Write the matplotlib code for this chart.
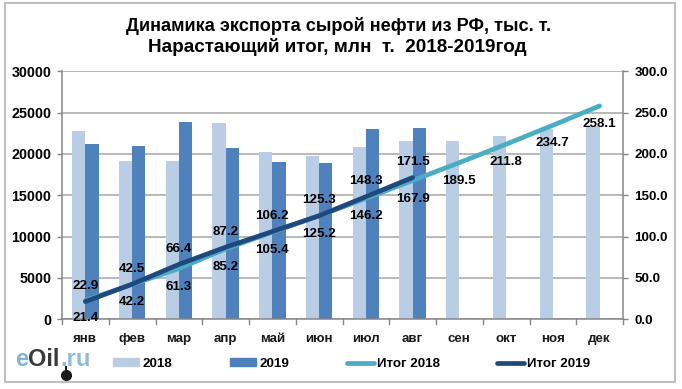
import matplotlib
matplotlib.use("Agg")
import matplotlib.pyplot as plt
from matplotlib.lines import Line2D
from matplotlib.patches import Patch, Rectangle
import numpy as np

plt.rcParams['font.family'] = ['Liberation Sans', 'DejaVu Sans']

months = ["янв", "фев", "мар", "апр", "май", "июн", "июл", "авг", "сен", "окт", "ноя", "дек"]
export_2018 = [22800, 19200, 19100, 23800, 20200, 19800, 20800, 21600, 21600, 22200, 23000, 23400]
export_2019 = [21200, 21000, 23900, 20700, 19000, 18900, 23000, 23200]
total_2018 = [22.9, 42.2, 61.3, 85.2, 105.4, 125.2, 146.2, 167.9, 189.5, 211.8, 234.7, 258.1]
total_2019 = [21.4, 42.5, 66.4, 87.2, 106.2, 125.3, 148.3, 171.5]

W, H = 682, 389
C_2018 = "#B9CDE5"
C_2019 = "#4F81BD"
C_T2018 = "#4BACC6"
C_T2019 = "#1F497D"
GRID = "#A6A6A6"
AXIS = "#868686"
FS = 9.6

fig = plt.figure(figsize=(W / 100, H / 100), dpi=100)
fig.patch.set_facecolor("white")
fig.add_artist(Rectangle((5 / W, 1 - 382 / H), 670 / W, 379 / H, transform=fig.transFigure,
                         fill=False, edgecolor="#BFBFBF", linewidth=1.4))

ax = fig.add_axes([62 / W, 1 - 319.3 / H, 561 / W, 248 / H])
x = np.arange(len(months))
ax.bar(x[:len(export_2018)] - 0.14, export_2018, width=0.285, color=C_2018, zorder=2)
ax.bar(x[:len(export_2019)] + 0.14, export_2019, width=0.285, color=C_2019, zorder=2)
ax.set_xlim(-0.5, 11.5)
ax.set_ylim(0, 30000)
ax.set_yticks(range(0, 30001, 5000))
ax.grid(axis="y", color=GRID, linewidth=1.1, zorder=1)
ax.set_axisbelow(True)
ax.set_xticks(x)
ax.set_xticklabels(months, fontsize=FS, fontweight="bold", color="#1a1a1a")
ax.tick_params(axis="x", length=0, pad=10)
for b in np.arange(-0.5, 12):
    ax.plot([b, b], [0, -0.018], transform=ax.get_xaxis_transform(), color=AXIS,
            linewidth=1, clip_on=False)
ax.tick_params(axis="y", length=3.6, color=AXIS, width=1, labelsize=10.3, pad=4)
for lab in ax.get_yticklabels():
    lab.set_fontweight("bold")
for s in ("top", "right"):
    ax.spines[s].set_visible(False)
for s in ("left", "bottom"):
    ax.spines[s].set_color(AXIS)
    ax.spines[s].set_linewidth(1.1)

ax2 = ax.twinx()
ax2.set_ylim(0, 300)
ax2.set_yticks(range(0, 301, 50))
ax2.set_yticklabels([f"{v:.1f}" for v in range(0, 301, 50)])
ax2.tick_params(axis="y", length=3.6, color=AXIS, width=1, labelsize=FS, pad=4.5)
for lab in ax2.get_yticklabels():
    lab.set_fontweight("bold")
for s in ("top", "left", "bottom"):
    ax2.spines[s].set_visible(False)
ax2.spines["right"].set_color(AXIS)
ax2.spines["right"].set_linewidth(1.1)

ax2.plot(x[:len(total_2018)], total_2018, color=C_T2018, linewidth=3.4,
         solid_capstyle="round", zorder=3)
ax2.plot(x[:len(total_2019)], total_2019, color=C_T2019, linewidth=3.4,
         solid_capstyle="round", zorder=4)

for i, v in enumerate(total_2018):
    off = 10.5 if i == 0 else -13
    ax2.annotate(f"{v:.1f}", (i, v), xytext=(0, off), textcoords="offset points",
                 ha="center", va="center", fontsize=FS, fontweight="bold", color="black", zorder=5)
for i, v in enumerate(total_2019):
    off = -12 if i == 0 else 11
    ax2.annotate(f"{v:.1f}", (i, v), xytext=(0, off), textcoords="offset points",
                 ha="center", va="center", fontsize=FS, fontweight="bold", color="black", zorder=5)

fig.text(338.5 / W, 1 - 26 / H, "Динамика экспорта сырой нефти из РФ, тыс. т.",
         ha="center", va="center", fontsize=13.1, fontweight="bold")
fig.text(337 / W, 1 - 47 / H, "Нарастающий итог, млн  т.  2018-2019год",
         ha="center", va="center", fontsize=13.55, fontweight="bold")

handles = [Patch(color=C_2018), Patch(color=C_2019),
           Line2D([0], [0], color=C_T2018, linewidth=3.4, solid_capstyle="round"),
           Line2D([0], [0], color=C_T2019, linewidth=3.4, solid_capstyle="round")]
fig.legend(handles, ["2018", "2019", "Итог 2018", "Итог 2019"], ncol=4, frameon=False,
           loc="center left", bbox_to_anchor=(102 / W, 1 - 364 / H),
           prop={"weight": "bold", "size": FS}, handlelength=2.0, handleheight=0.55,
           handletextpad=0.25, columnspacing=4.3, borderpad=0.3)

# логотип
logo_y = 1 - 360 / H
fig.text(15 / W, logo_y, "e", color="#7FB2D6", fontsize=17, fontweight="bold", va="center")
fig.text(28 / W, logo_y, "Oil", color="#3A3A3A", fontsize=17, fontweight="bold", va="center")
fig.text(60 / W, logo_y, ".ru", color="#8DBBDA", fontsize=17, fontweight="bold", va="center")
fig.add_artist(Line2D([65.5 / W, 65.5 / W], [1 - 367 / H, 1 - 375 / H], color="#1a1a1a",
                      linewidth=1.5, transform=fig.transFigure))
fig.add_artist(Line2D([65.5 / W], [1 - 375 / H], marker="o", markersize=7, color="#1a1a1a",
                      transform=fig.transFigure))

fig.savefig("out.png", dpi=100)
plt.close(fig)
